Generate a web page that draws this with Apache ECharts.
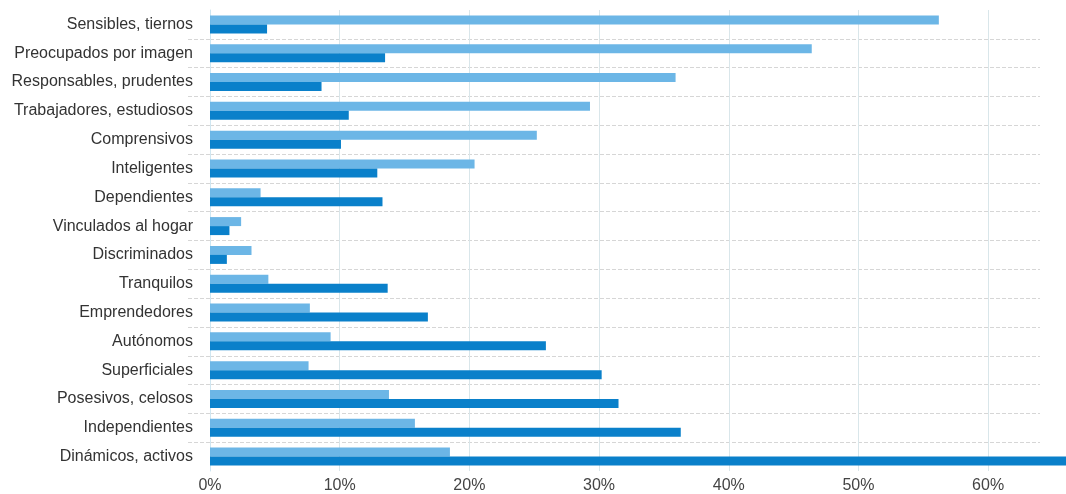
<!DOCTYPE html>
<html>
<head>
<meta charset="utf-8">
<script src="https://cdn.jsdelivr.net/npm/echarts@6/dist/echarts.min.js"></script>
<style>
html,body{margin:0;padding:0;background:#fff;}
#chart{width:1066px;height:494px;}
</style>
</head>
<body>
<div id="chart"></div>
<script>
const categories = [
  "Sensibles, tiernos", "Preocupados por imagen", "Responsables, prudentes",
  "Trabajadores, estudiosos", "Comprensivos", "Inteligentes", "Dependientes",
  "Vinculados al hogar", "Discriminados", "Tranquilos", "Emprendedores",
  "Autónomos", "Superficiales", "Posesivos, celosos", "Independientes",
  "Dinámicos, activos"
];
const seriesLight = [56.2, 46.4, 35.9, 29.3, 25.2, 20.4, 3.9, 2.4, 3.2, 4.5, 7.7, 9.3, 7.6, 13.8, 15.8, 18.5];
const seriesDark  = [4.4, 13.5, 8.6, 10.7, 10.1, 12.9, 13.3, 1.5, 1.3, 13.7, 16.8, 25.9, 30.2, 31.5, 36.3, 70.0];
const xTicks = [0, 10, 20, 30, 40, 50, 60];
const gridValues = [10, 20, 30, 40, 50, 60];
// boundaries between category rows (used only for the dashed separators)
const boundaries = Array.from({ length: categories.length + 1 }, (_, i) => String(i));

const inner = (i) => i > 0 && i < categories.length;

const chart = echarts.init(document.getElementById('chart'));
chart.setOption({
  animation: false,
  backgroundColor: '#ffffff',
  textStyle: { fontFamily: 'Liberation Sans, Arial, sans-serif' },
  grid: { left: 210, right: 26, top: 10, bottom: 20, containLabel: false },
  xAxis: {
    type: 'value',
    min: 0,
    max: 64,
    interval: 10,
    axisLine: { show: false },
    axisTick: { show: false },
    axisLabel: {
      color: '#444',
      fontSize: 16,
      margin: 7,
      showMaxLabel: false,
      formatter: v => (xTicks.indexOf(v) >= 0 ? v + '%' : '')
    },
    splitLine: { show: false }
  },
  yAxis: [
    {
      type: 'category',
      data: categories,
      inverse: true,
      axisLine: { show: true, lineStyle: { color: '#cfe6f1', width: 1 } },
      axisTick: { show: false },
      axisLabel: { color: '#333', fontSize: 16, margin: 17 },
      splitLine: { show: false }
    },
    {
      type: 'category',
      data: boundaries,
      inverse: true,
      boundaryGap: false,
      position: 'left',
      axisLine: { show: false },
      axisLabel: { show: false },
      axisTick: {
        show: true, length: 24, interval: inner,
        lineStyle: { color: '#d6d6d6', type: 'dashed' }
      },
      splitLine: {
        show: true, interval: inner,
        lineStyle: { color: '#d6d6d6', type: 'dashed', width: 1 }
      }
    }
  ],
  series: [
    {
      type: 'bar',
      data: seriesLight,
      yAxisIndex: 0,
      barWidth: 9,
      barGap: '0%',
      clip: false,
      z: 3,
      itemStyle: { color: '#6cb6e6' },
      markLine: {
        silent: true,
        symbol: 'none',
        label: { show: false },
        z: 1,
        lineStyle: { color: '#d9e6ea', type: 'solid', width: 1 },
        data: gridValues.map(v => ({ xAxis: v }))
      }
    },
    {
      type: 'bar',
      data: seriesDark,
      yAxisIndex: 0,
      barWidth: 9,
      barGap: '0%',
      clip: false,
      z: 3,
      itemStyle: { color: '#0a80ca' }
    }
  ]
});
</script>
</body>
</html>
